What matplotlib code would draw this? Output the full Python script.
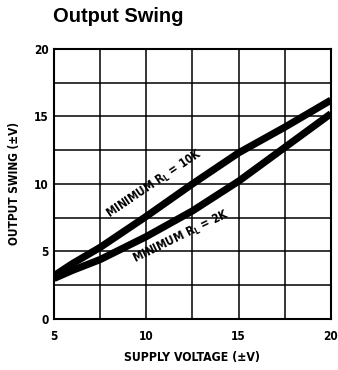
import matplotlib
matplotlib.use("Agg")
import matplotlib.pyplot as plt
import numpy as np

# supply voltage (+/- V) and output swing readings for the two load curves
supply_v = [5, 6, 7.5, 10, 12.5, 15, 17.5, 20]
swing_10k = [3.2, 4.1, 5.3, 7.6, 10.0, 12.3, 14.2, 16.2]
swing_2k = [3.0, 3.6, 4.4, 6.1, 8.0, 10.2, 12.7, 15.2]

x_ticks = [5, 10, 15, 20]
y_ticks = [0, 5, 10, 15, 20]

cond = dict(family="DejaVu Sans", fontstretch="condensed", fontweight="bold")

fig = plt.figure(figsize=(3.38, 3.70), dpi=100)
ax = fig.add_axes([0.160, 0.138, 0.819, 0.730])

# grid every 2.5 in both directions
for gx in np.arange(5, 20.1, 2.5):
    ax.axvline(gx, color="black", lw=1.1, zorder=1)
for gy in np.arange(0, 20.1, 2.5):
    ax.axhline(gy, color="black", lw=1.1, zorder=1)

ax.plot(supply_v, swing_10k, color="black", lw=5.2, solid_capstyle="butt",
        solid_joinstyle="round", zorder=3)
ax.plot(supply_v, swing_2k, color="black", lw=5.2, solid_capstyle="butt",
        solid_joinstyle="round", zorder=3)

ax.set_xlim(5, 20)
ax.set_ylim(0, 20)
ax.set_xticks(x_ticks)
ax.set_yticks(y_ticks)
ax.set_xticklabels([str(v) for v in x_ticks], fontsize=8.5, **cond)
ax.set_yticklabels([str(v) for v in y_ticks], fontsize=8.5, **cond)
ax.tick_params(axis="x", length=0, pad=8)
ax.tick_params(axis="y", length=0, pad=4)
for s in ax.spines.values():
    s.set_linewidth(1.5)

ax.set_xlabel("SUPPLY VOLTAGE (±V)", fontsize=8.8, labelpad=6, **cond)
ax.set_ylabel("OUTPUT SWING (±V)", fontsize=8.5, labelpad=9, **cond)

ax.text(10.45, 9.95, r"MINIMUM R$_\mathregular{L}$ = 10K", rotation=34,
        ha="center", va="center", fontsize=8.3, rotation_mode="anchor", **cond)
ax.text(11.9, 6.05, r"MINIMUM R$_\mathregular{L}$ = 2K", rotation=26,
        ha="center", va="center", fontsize=8.3, rotation_mode="anchor", **cond)

fig.text(0.157, 0.94, "Output Swing", fontsize=14.5, fontweight="bold",
         family="Liberation Sans", ha="left", va="baseline")

fig.savefig("out.png", dpi=100)
